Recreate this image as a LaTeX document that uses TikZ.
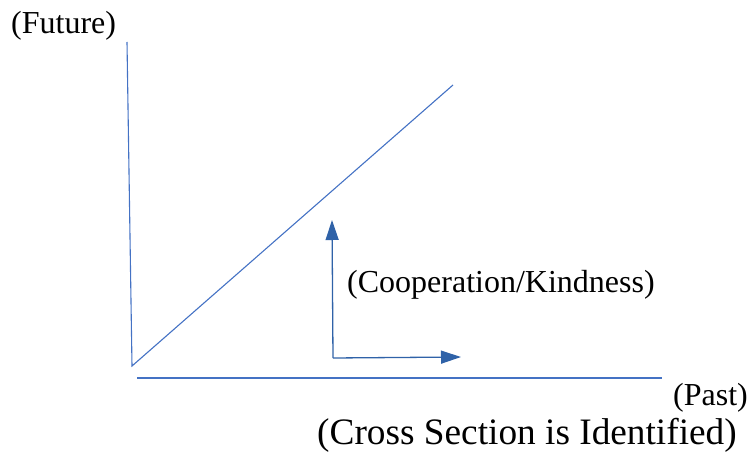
\documentclass[tikz,border=0pt]{standalone}
\usepackage{fontspec}
\setmainfont{Liberation Serif}
\usetikzlibrary{arrows.meta}
\definecolor{axisblue}{HTML}{4472C4}
\definecolor{arrowblue}{HTML}{2F62A8}
\tikzset{
  axisline/.style={draw=axisblue, line width=1.1pt},
  arrowline/.style={draw=arrowblue, line width=1.3pt, -{Triangle[length=20pt,width=13pt]}},
  label/.style={inner sep=0pt, anchor=base west, font=\fontsize{32}{36}\selectfont},
  biglabel/.style={inner sep=0pt, anchor=base west, font=\fontsize{37.3}{42}\selectfont}
}
\begin{document}
\begin{tikzpicture}[x=1pt,y=-1pt]
\useasboundingbox (0,0) rectangle (755,452);
% axes
\coordinate (vtop) at (127,42);
\coordinate (origin) at (132,366);
\coordinate (dend) at (453,85);
\coordinate (hstart) at (137,378);
\coordinate (hend) at (662,378);
\draw[axisline] (vtop) -- (origin) -- (dend);
\draw[axisline] (hstart) -- (hend);
% arrows
\coordinate (corner) at (333,358);
\coordinate (uptip) at (332,220);
\coordinate (righttip) at (461,357);
\draw[arrowline] (corner) -- (uptip);
\draw[arrowline] (corner) -- (righttip);
% labels
\node[label] (future) at (11,34) {(Future)};
\node[label] (coop) at (347,292) {(Cooperation/Kindness)};
\node[label] (past) at (673,405) {(Past)};
\node[biglabel] (cross) at (317,444) {(Cross Section is Identified)};
\end{tikzpicture}
\end{document}
